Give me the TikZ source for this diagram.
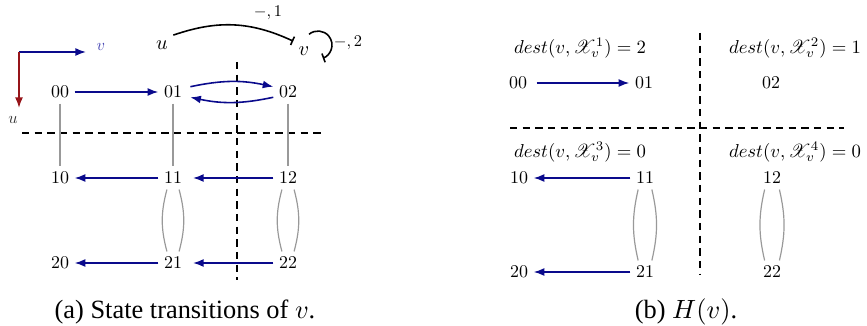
\documentclass[tikz,border=0pt]{standalone}
\usepackage[no-math]{fontspec}
\setmainfont{Liberation Serif}
\usepackage{mathrsfs}
\usetikzlibrary{arrows.meta}
\definecolor{navy}{RGB}{10,10,140}
\definecolor{dred}{RGB}{150,20,25}
\definecolor{lblue}{RGB}{70,70,180}
\begin{document}
\begin{tikzpicture}[x=0.379pt,y=-0.379pt,
 st/.style={inner sep=3pt,font=\fontsize{10}{12}\selectfont,scale=0.68},
 big/.style={inner sep=2.5pt,font=\fontsize{10}{12}\selectfont,scale=0.77},
 lab/.style={inner sep=1pt,font=\fontsize{10}{12}\selectfont,scale=0.71},
 sml/.style={inner sep=1pt,font=\fontsize{10}{12}\selectfont,scale=0.62},
 tr/.style={draw=navy,line width=0.6pt,-{Latex[length=4pt,width=3pt]}},
 gl/.style={draw=black!40,line width=0.45pt},
 dl/.style={draw=black,line width=0.6pt,dash pattern=on 2.8pt off 2pt},
 inh/.style={draw=black,line width=0.6pt,-{Bar[width=3.5pt]}},
 captxt/.style={font=\fontsize{10}{12}\selectfont,anchor=base,inner sep=0pt}]
\useasboundingbox (0,0) rectangle (867,326);

% ---------- left panel ----------
% axes
\coordinate (o) at (19,52);
\coordinate (ox) at (86,52);
\coordinate (oy) at (19,108);
\draw[tr] (o) -- (ox);
\draw[draw=dred,line width=0.6pt,-{Latex[length=4pt,width=3pt]}] (o) -- (oy);
\node[sml,text=lblue] (lv) at (101,47) {$v$};
\node[sml,text=black!80] (lu) at (13,120) {$u$};

% regulatory graph
\node[big] (tu) at (162,45) {$u$};
\node[big] (tv) at (304,51) {$v$};
\draw[inh] (tu.north east) to[bend left=22] (tv.north west);
\node[sml] (l1) at (268,13) {$-,1$};
\coordinate (ls) at (309,34.3);
\draw[inh] (ls) arc[start angle=230,end angle=430,radius=14];
\node[sml] (l2) at (348,43) {$-,2$};

% dashed separators
\coordinate (ah1) at (22,133);
\coordinate (ah2) at (324,133);
\coordinate (av1) at (237,62);
\coordinate (av2) at (237,280);
\draw[dl] (ah1) -- (ah2);
\draw[dl] (av1) -- (av2);

% states
\node[st] (a00) at (60,92) {$00$};
\node[st] (a01) at (173,92) {$01$};
\node[st] (a02) at (288,92) {$02$};
\node[st] (a10) at (60,178) {$10$};
\node[st] (a11) at (173,178) {$11$};
\node[st] (a12) at (288,178) {$12$};
\node[st] (a20) at (60,263) {$20$};
\node[st] (a21) at (173,263) {$21$};
\node[st] (a22) at (288,263) {$22$};

\draw[gl] (a00) -- (a10);
\draw[gl] (a01) -- (a11);
\draw[gl] (a02) -- (a12);
\draw[gl] ([xshift=-2.3pt]a11.south) to[bend right=15] ([xshift=-2.3pt]a21.north);
\draw[gl] ([xshift=2.3pt]a11.south) to[bend left=15] ([xshift=2.3pt]a21.north);
\draw[gl] ([xshift=-2.3pt]a12.south) to[bend right=15] ([xshift=-2.3pt]a22.north);
\draw[gl] ([xshift=2.3pt]a12.south) to[bend left=15] ([xshift=2.3pt]a22.north);

\draw[tr] (a00) -- (a01);
\draw[tr] ([yshift=2pt,xshift=1pt]a01.east) to[bend left=12] ([yshift=2pt]a02.west);
\draw[tr] ([yshift=-2pt]a02.west) to[bend left=12] ([yshift=-2pt,xshift=1pt]a01.east);
\draw[tr,shorten >=2pt] (a12) -- (a11);
\draw[tr] (a11) -- (a10);
\draw[tr,shorten >=2pt] (a22) -- (a21);
\draw[tr] (a21) -- (a20);

\node[captxt] (ca) at (185,318) {(a) State transitions of $v$.};

% ---------- right panel ----------
\coordinate (bh1) at (510,128);
\coordinate (bh2) at (844,128);
\coordinate (bv1) at (700,33);
\coordinate (bv2) at (700,274);
\draw[dl] (bh1) -- (bh2);
\draw[dl] (bv1) -- (bv2);

\node[lab] (d1) at (580,48) {$dest(v,\mathscr{X}_v^1)=2$};
\node[lab] (d2) at (795,48) {$dest(v,\mathscr{X}_v^2)=1$};
\node[lab] (d3) at (580,152) {$dest(v,\mathscr{X}_v^3)=0$};
\node[lab] (d4) at (795,152) {$dest(v,\mathscr{X}_v^4)=0$};

\node[st] (b00) at (518,83) {$00$};
\node[st] (b01) at (644,83) {$01$};
\node[st] (b02) at (771,83) {$02$};
\node[st] (b10) at (519,178) {$10$};
\node[st] (b11) at (645,178) {$11$};
\node[st] (b12) at (772,178) {$12$};
\node[st] (b20) at (519,272) {$20$};
\node[st] (b21) at (645,272) {$21$};
\node[st] (b22) at (772,272) {$22$};

\draw[tr,shorten <=1.5pt] (b00) -- (b01);
\draw[tr] (b11) -- (b10);
\draw[tr] (b21) -- (b20);
\draw[gl] ([xshift=-2.6pt]b11.south) to[bend right=13] ([xshift=-2.6pt]b21.north);
\draw[gl] ([xshift=2.6pt]b11.south) to[bend left=13] ([xshift=2.6pt]b21.north);
\draw[gl] ([xshift=-2.8pt]b12.south) to[bend right=13] ([xshift=-2.8pt]b22.north);
\draw[gl] ([xshift=2.8pt]b12.south) to[bend left=13] ([xshift=2.8pt]b22.north);

\node[captxt] (cb) at (686,318) {(b) $H(v)$.};
\end{tikzpicture}
\end{document}
